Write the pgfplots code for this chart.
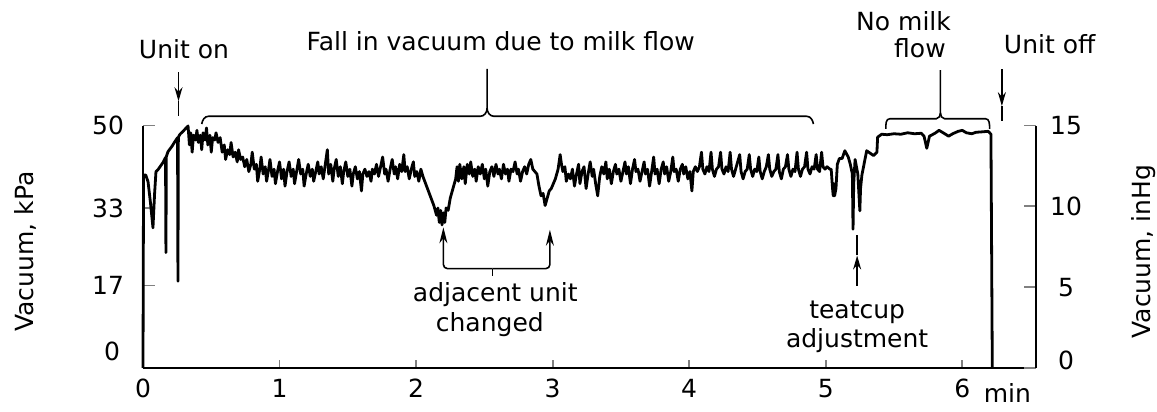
\documentclass[border=0pt]{standalone}
\usepackage{fontspec}
\setmainfont{DejaVu Sans}
\usepackage{pgfplots}
\pgfplotsset{compat=1.18}
\usetikzlibrary{arrows.meta}

\newcommand{\lbl}{\fontsize{12.5}{14}\selectfont}

\begin{document}
\begin{tikzpicture}[font=\lbl]
\useasboundingbox (-71.5pt,-22pt) rectangle (507pt,184pt);
\begin{axis}[
  at={(0,0)}, anchor=south west,
  scale only axis, width=446.5pt, height=121.25pt,
  xmin=0, xmax=6.54, ymin=0, ymax=50,
  axis x line=bottom, axis y line=left,
  axis line style={-, line width=1pt},
  tick align=inside,
  xtick={0,...,6}, ytick={0,17,33,50}, yticklabels={,17,33,50},
  xtick style={line width=0.9pt, /pgfplots/major tick length=4pt},
  ytick style={line width=0.9pt, /pgfplots/major tick length=6pt},
  tick label style={font=\lbl},
  /pgf/number format/assume math mode=true,
  xticklabel style={yshift=-2pt},
  yticklabel style={xshift=-6pt},
  clip=false,
]
% vacuum trace, kPa against minutes
\addplot[black, line width=1.4pt, line join=round] coordinates {
(0,0) (0.004,39.8) (0.02,39.8) (0.037,38.4) (0.055,34) (0.073,28.9) (0.085,36) (0.095,40.5) (0.11,40.9) (0.147,42.4) (0.165,43.4) (0.168,23.8) (0.171,43.6) (0.183,44.6) (0.212,45.7) (0.234,46.7) (0.253,47.5) (0.256,17.9) (0.259,47.6) (0.271,48.2) (0.293,48.8) (0.33,49.9)
(0.34,46) (0.35,48.5) (0.36,44.5) (0.37,48) (0.385,47) (0.395,49) (0.405,46.5) (0.42,48) (0.43,45) (0.44,48.5) (0.455,47) (0.465,49.5) (0.475,46) (0.49,48) (0.5,44.5) (0.51,47.5) (0.525,47) (0.535,48.5) (0.55,46.5) (0.565,47.5)
(0.58,44.5) (0.595,46) (0.605,43) (0.62,45) (0.635,44) (0.645,46.5) (0.66,43.5) (0.675,44.5) (0.69,42.5) (0.7,45) (0.715,43) (0.73,43.5) (0.745,41.5) (0.76,43) (0.775,40.5) (0.79,42) (0.8,44.5) (0.815,41) (0.83,42) (0.84,38.5) (0.855,41) (0.865,43.5) (0.88,40) (0.895,41.5) (0.905,38.5) (0.92,41) (0.93,43) (0.945,39.5) (0.96,41) (0.97,38) (0.985,40.5) (1.0,42.5)
(1.015,39) (1.03,41) (1.04,37.5) (1.055,40.5) (1.07,42.5) (1.085,39.5) (1.1,41) (1.11,38) (1.125,40.5) (1.14,43) (1.155,40) (1.17,41) (1.18,37.5) (1.195,40) (1.21,42) (1.225,39.5) (1.24,41) (1.25,38.5) (1.265,40.5) (1.28,42.5) (1.29,40) (1.305,41.5) (1.32,39) (1.335,42) (1.35,45) (1.36,40) (1.375,42) (1.39,38.5) (1.4,41) (1.415,43) (1.43,39.5) (1.445,41.5) (1.46,38) (1.47,40.5) (1.485,42.5) (1.5,39.5) (1.515,41) (1.53,37.5) (1.54,40) (1.555,41.5) (1.57,39) (1.585,40.5) (1.6,36.5) (1.61,40) (1.625,41) (1.64,39.5) (1.655,40.5) (1.67,38.5) (1.68,41) (1.695,40) (1.71,42) (1.725,39.5) (1.74,41.5) (1.755,43.5) (1.77,40) (1.78,41) (1.795,38.5) (1.81,41) (1.825,43) (1.84,40) (1.85,41.5) (1.865,39) (1.88,42) (1.895,40.5) (1.91,44) (1.92,40.5) (1.935,41.5) (1.95,39) (1.965,41) (1.98,42.5) (1.99,39.5) (2.005,40.5) (2.02,38.5) (2.035,41) (2.05,39.5)
(2.07,38) (2.09,36.5) (2.11,35) (2.13,33.5) (2.15,31.5) (2.16,33) (2.17,30) (2.18,32.5) (2.19,29.5) (2.2,32) (2.21,30) (2.22,33) (2.235,32.5) (2.25,35) (2.27,37) (2.29,39) (2.3,41.5) (2.31,38.5) (2.32,42)
(2.335,39) (2.35,41.5) (2.36,38) (2.375,42) (2.39,40) (2.4,42.5) (2.415,39.5) (2.43,41) (2.44,38.5) (2.455,41.5) (2.47,40) (2.485,42) (2.5,39) (2.51,41) (2.525,37.5) (2.54,40.5) (2.555,41.5) (2.57,39.5) (2.585,42) (2.6,40) (2.61,41) (2.625,39) (2.64,42) (2.655,40) (2.67,41) (2.68,38.5) (2.695,41) (2.71,40.5) (2.725,42.5) (2.74,40) (2.75,41) (2.765,38.5) (2.78,40.5) (2.795,41.5) (2.81,40) (2.825,42) (2.84,43) (2.855,41) (2.87,40.5)
(2.885,40) (2.9,37.5) (2.915,35.5) (2.93,36) (2.945,33.5) (2.96,35) (2.975,36.5) (2.99,37) (3.005,38) (3.02,39) (3.04,41) (3.055,44) (3.065,42) (3.075,40.5)
(3.09,41.5) (3.1,38.5) (3.115,40) (3.13,39) (3.145,41) (3.16,37.5) (3.175,40) (3.19,42) (3.2,38) (3.215,40.5) (3.23,41.5) (3.245,37) (3.26,40) (3.275,42.5) (3.29,39.5) (3.3,41) (3.315,38) (3.33,35.5) (3.345,39.5) (3.36,41.5) (3.375,40) (3.39,42.5) (3.4,39) (3.415,41) (3.43,38) (3.445,40.5) (3.46,42) (3.47,40) (3.485,41) (3.5,38.5) (3.515,40.5) (3.53,42.5) (3.54,40) (3.555,41.5) (3.57,38) (3.585,41) (3.6,43) (3.61,40.5) (3.625,41) (3.64,38.5) (3.655,40.5) (3.67,42.5) (3.68,40) (3.695,41) (3.71,37.5) (3.725,40.5) (3.74,43.5) (3.75,40) (3.765,41) (3.78,38) (3.795,41) (3.81,42.5) (3.82,40) (3.835,41.5) (3.85,38.5) (3.865,40.5) (3.88,43.5) (3.89,40.5) (3.905,41) (3.92,38.5) (3.935,41) (3.95,42) (3.96,40) (3.975,41.5) (3.99,39) (4.005,40.5) (4.02,36.5) (4.03,40.5) (4.045,41.5)
(4.06,40.5) (4.075,41.5) (4.09,44.5) (4.1,41) (4.115,40) (4.13,41.5) (4.145,40.5) (4.16,44.5) (4.17,41) (4.185,39.5) (4.2,41) (4.215,41.5) (4.23,44.5) (4.24,41) (4.255,40) (4.27,41.5) (4.285,40.5) (4.3,44.5) (4.31,41) (4.325,39.5) (4.34,41) (4.355,42.5) (4.37,44) (4.38,40.5) (4.395,39) (4.41,40.5) (4.425,41) (4.44,44) (4.45,41) (4.465,39.5) (4.48,41) (4.495,40.5) (4.51,43.5) (4.52,40.5) (4.535,39) (4.55,40.5) (4.565,41.5) (4.58,44) (4.59,41) (4.605,39.5) (4.62,40.5) (4.635,41) (4.65,44) (4.66,40.5) (4.675,39) (4.69,41) (4.705,41.5) (4.72,44) (4.73,41) (4.745,39.5) (4.76,41) (4.775,40.5) (4.79,44.5) (4.8,41) (4.815,39.5) (4.83,41) (4.845,41.5) (4.86,44.5) (4.87,41) (4.885,40) (4.9,41.5) (4.915,41) (4.93,44) (4.94,41) (4.955,40.5) (4.97,44.5) (4.98,41.5) (4.995,41) (5.01,41.5) (5.03,41)
(5.04,41) (5.05,37) (5.055,35.5) (5.06,38) (5.065,35.5) (5.075,37) (5.085,42) (5.1,43.2) (5.12,43.2) (5.14,44.8) (5.165,43.5) (5.18,42) (5.195,40) (5.2,28.6) (5.205,38) (5.215,43) (5.235,40) (5.25,32.4) (5.255,37) (5.265,39.8) (5.3,44.8) (5.35,43.8) (5.375,44.5) (5.38,47.6) (5.41,48.2)
(5.45,48.1) (5.5,48.3) (5.55,48.2) (5.6,48.5) (5.65,48.3) (5.7,48.4) (5.72,47.8) (5.74,45.3) (5.76,47.8) (5.8,48.4) (5.83,49) (5.86,48.5) (5.9,47.8) (5.93,48.3) (5.97,48.8) (6.0,49) (6.03,48.5) (6.07,48.3) (6.1,48.6) (6.15,48.7) (6.19,48.8) (6.21,48.2) (6.22,0)
};
% brackets and arrows
\draw[line width=0.8pt] (axis cs:0.43,50.3) to[out=80,in=180] (axis cs:0.48,51.9) -- (axis cs:2.47,51.9) to[out=0,in=-90] (axis cs:2.52,53.6) -- (axis cs:2.52,61.7);
\draw[line width=0.8pt] (axis cs:2.52,53.6) to[out=-90,in=180] (axis cs:2.57,51.9) -- (axis cs:4.86,51.9) to[out=0,in=100] (axis cs:4.91,50.3);
\draw[line width=0.8pt] (axis cs:5.44,49.3) to[out=90,in=180] (axis cs:5.47,51.4) -- (axis cs:5.81,51.4) to[out=0,in=-90] (axis cs:5.84,52.6) -- (axis cs:5.84,61.4);
\draw[line width=0.8pt] (axis cs:5.84,52.6) to[out=-90,in=180] (axis cs:5.87,51.4) -- (axis cs:6.17,51.4) to[out=0,in=90] (axis cs:6.2,49.3);
\draw[line width=0.8pt, -{Stealth[length=7pt,width=4pt]}] (axis cs:0.26,61) -- (axis cs:0.26,55);
\draw[line width=0.8pt] (axis cs:0.26,55) -- (axis cs:0.26,52);
\draw[line width=0.8pt, -{Stealth[length=7pt,width=4pt]}] (axis cs:6.29,61.6) -- (axis cs:6.29,54);
\draw[line width=0.8pt] (axis cs:6.29,54) -- (axis cs:6.29,51);
\draw[line width=0.8pt, -{Stealth[length=7pt,width=4pt]}] (axis cs:5.23,17) -- (axis cs:5.23,23.2);
\draw[line width=0.8pt] (axis cs:5.23,23.2) -- (axis cs:5.23,27.5);
\draw[line width=0.8pt, -{Stealth[length=8pt,width=4pt]}, rounded corners=2pt] (axis cs:2.56,20.5) -- (axis cs:2.2,20.5) -- (axis cs:2.2,29);
\draw[line width=0.8pt, -{Stealth[length=8pt,width=4pt]}, rounded corners=2pt] (axis cs:2.56,20.5) -- (axis cs:2.98,20.5) -- (axis cs:2.98,28.5);
\draw[line width=0.8pt] (axis cs:2.56,20.5) -- (axis cs:2.56,19);
% text
\node at (axis cs:0.30,65.8) {Unit on};
\node at (axis cs:2.62,67.4) {Fall in vacuum due to milk flow};
\node at (axis cs:5.57,71.5) {No milk};
\node at (axis cs:5.69,66) {flow};
\node at (axis cs:6.64,66.7) {Unit off};
\node at (axis cs:2.58,15.2) {adjacent unit};
\node at (axis cs:2.54,9) {changed};
\node at (axis cs:5.23,11.5) {teatcup};
\node at (axis cs:5.23,5.7) {adjustment};
\node[anchor=east] at (axis cs:0,0) [xshift=-8pt, yshift=8.5pt] {0};
\node[anchor=north] at (axis cs:6.33,0) [yshift=-4pt] {min};
\node[rotate=90] at (axis cs:-0.864,24) {Vacuum, kPa};
\node[rotate=90] at (axis cs:7.33,24) {Vacuum, inHg};
\end{axis}
\begin{axis}[
  at={(0,0)}, anchor=south west,
  scale only axis, width=446.5pt, height=121.25pt,
  xmin=0, xmax=6.54, ymin=0, ymax=15,
  axis x line=none, axis y line=right,
  axis line style={-, line width=1pt},
  tick align=inside,
  ytick={0,5,10,15}, yticklabels={,5,10,15},
  ytick style={line width=0.9pt, /pgfplots/major tick length=6pt},
  tick label style={font=\lbl},
  /pgf/number format/assume math mode=true,
  yticklabel style={anchor=center, xshift=15pt},
  clip=false,
]
\node at (axis cs:6.54,0) [xshift=15pt, yshift=4pt] {0};
\end{axis}
\end{tikzpicture}
\end{document}
